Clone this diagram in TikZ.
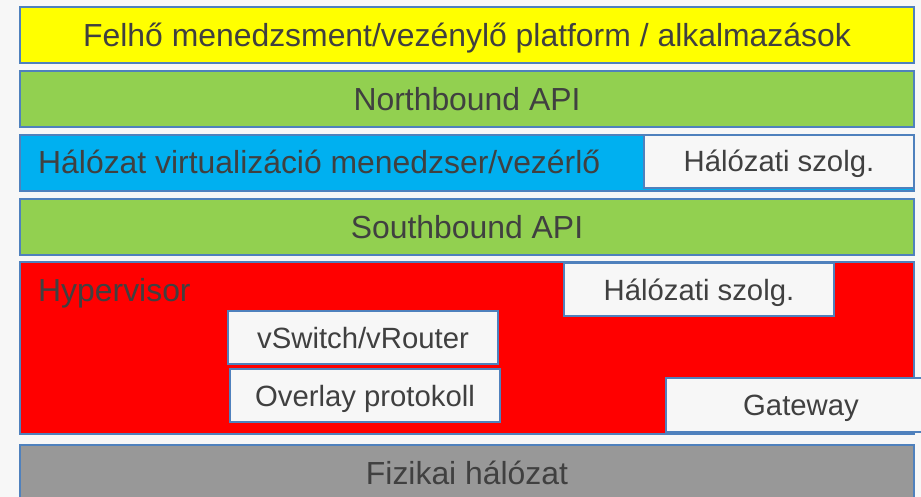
\documentclass[tikz,border=0pt]{standalone}
\usepackage{fontspec}
\setmainfont{Liberation Sans}
\usetikzlibrary{positioning}
\definecolor{bordblue}{RGB}{79,129,189}
\definecolor{bgwhite}{RGB}{247,247,247}
\definecolor{txtgray}{RGB}{64,64,64}
\definecolor{layyellow}{RGB}{255,255,0}
\definecolor{laygreen}{RGB}{146,208,80}
\definecolor{layblue}{RGB}{0,176,240}
\definecolor{layred}{RGB}{255,0,0}
\definecolor{laygray}{RGB}{152,152,152}

\begin{document}
\begin{tikzpicture}[
        x=1pt, y=-1pt,
        layer/.style={rectangle, draw=bordblue, line width=2pt, minimum width=894pt, minimum height=56pt, anchor=north west, inner sep=0pt, text=txtgray, font=\fontsize{31.9}{36}\selectfont, text height=22.8pt, text depth=0pt},
        svc/.style={rectangle, draw=bordblue, line width=2pt, fill=bgwhite, minimum width=270pt, minimum height=53pt, anchor=north west, inner sep=0pt, text=txtgray, font=\fontsize{29.3}{34}\selectfont, text height=21pt, text depth=0pt},
        plain/.style={inner sep=0pt, anchor=west, text=txtgray, font=\fontsize{31.9}{36}\selectfont, text height=22.8pt, text depth=0pt}
    ]
        \clip (0,0) rectangle (921,497);
        \fill[bgwhite] (0,0) rectangle (921,497);

        % Layers
        \node[layer, fill=layyellow] (cloud) at (19,6) {Felhő menedzsment/vezénylő platform / alkalmazások};
        \node[layer, fill=laygreen] (north) at (19,70) {Northbound API};
        \node[layer, fill=layblue] (nvm) at (19,134) {};
        \node[layer, fill=laygreen] (south) at (19,198) {Southbound API};
        \node[layer, fill=layred, minimum height=172pt] (hyp) at (19,261) {};
        \node[layer, fill=laygray] (phys) at (19,444) {Fizikai hálózat};

        % Layer titles
        \node[plain] (nvmtxt) at (38,162) {Hálózat virtualizáció menedzser/vezérlő};
        \node[plain] (hyptxt) at (38,290) {Hypervisor};

        % Services
        \node[svc, minimum height=53pt] (netsvc1) at (643,134) {Hálózati szolg.};
        \node[svc] (netsvc2) at (563,262) {Hálózati szolg.};
        \node[svc] (vswitch) at (227,310) {vSwitch/vRouter};
        \node[svc] (overlay) at (229,368) {Overlay protokoll};
        \node[svc, minimum height=54pt] (gateway) at (665,377) {Gateway};
    \end{tikzpicture}
\end{document}
